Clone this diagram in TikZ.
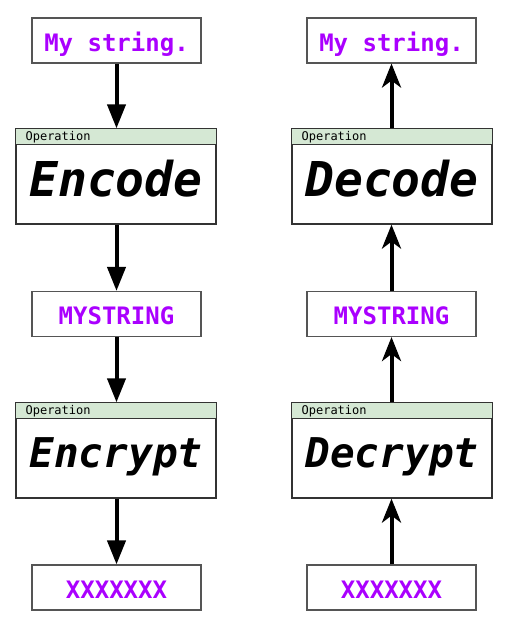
\documentclass[tikz,border=0pt]{standalone}
\usepackage{fontspec}
\newfontfamily\monof{DejaVu Sans Mono}
\usetikzlibrary{arrows.meta}
\definecolor{strpurple}{HTML}{AA00FF}
\definecolor{hdrgreen}{HTML}{D5E8D4}
\definecolor{strborder}{HTML}{555555}
\definecolor{opborder}{HTML}{333333}
\tikzset{
  strbox/.style={draw=strborder, line width=1.1pt, fill=white, minimum width=169pt, minimum height=45pt,
    inner sep=0pt, text=strpurple, font=\monof\bfseries\fontsize{24}{24}\selectfont,
    text height=21.5pt, text depth=0pt},
  opbox/.style={draw=opborder, line width=1.2pt, fill=white, minimum width=200pt, minimum height=95pt, inner sep=0pt},
  hdrstrip/.style={fill=hdrgreen, draw=opborder, line width=1.2pt},
  hdrlabel/.style={font=\monof\fontsize{12}{12}\selectfont, anchor=west, inner sep=0pt},
  bigtitle/.style={font=\monof\bfseries\itshape\fontsize{48}{48}\selectfont, anchor=base, inner sep=0pt},
  midtitle/.style={font=\monof\bfseries\itshape\fontsize{41}{41}\selectfont, anchor=base, inner sep=0pt},
  fwd/.style={line width=4pt, -{Triangle[length=24pt,width=18pt]}},
  bwd/.style={line width=4pt, -{Stealth[length=24pt,width=19pt,inset=7pt]}}
}
\begin{document}
\begin{tikzpicture}[x=1pt,y=-1pt]
\path[fill=white,use as bounding box] (0,0) rectangle (521,631);

% left column
\node[strbox] (s1) at (116.5,40.5) {My string.};
\node[opbox] (op1) at (116,176.5) {};
\path[hdrstrip] (op1.north west) rectangle ([yshift=-16pt]op1.north east);
\node[hdrlabel] (op1h) at ([xshift=10pt,yshift=-9pt]op1.north west) {Operation};
\node[bigtitle] (op1t) at ([yshift=-68pt]op1.north) {Encode};
\node[strbox] (s2) at (116.5,314) {MYSTRING};
\node[opbox] (op2) at (116,450.5) {};
\path[hdrstrip] (op2.north west) rectangle ([yshift=-16pt]op2.north east);
\node[hdrlabel] (op2h) at ([xshift=10pt,yshift=-9pt]op2.north west) {Operation};
\node[midtitle] (op2t) at ([yshift=-65pt]op2.north) {Encrypt};
\node[strbox] (s3) at (116.5,587.5) {XXXXXXX};

\draw[fwd] (s1.south) -- (s1.south |- op1.north);
\draw[fwd] (op1.south -| s2.north) -- (s2.north);
\draw[fwd] (s2.south) -- (s2.south |- op2.north);
\draw[fwd] (op2.south -| s3.north) -- (s3.north);

% right column
\node[strbox] (s4) at (391.5,40.5) {My string.};
\node[opbox] (op3) at (392,176.5) {};
\path[hdrstrip] (op3.north west) rectangle ([yshift=-16pt]op3.north east);
\node[hdrlabel] (op3h) at ([xshift=10pt,yshift=-9pt]op3.north west) {Operation};
\node[bigtitle] (op3t) at ([yshift=-68pt]op3.north) {Decode};
\node[strbox] (s5) at (391.5,314) {MYSTRING};
\node[opbox] (op4) at (392,450.5) {};
\path[hdrstrip] (op4.north west) rectangle ([yshift=-16pt]op4.north east);
\node[hdrlabel] (op4h) at ([xshift=10pt,yshift=-9pt]op4.north west) {Operation};
\node[midtitle] (op4t) at ([yshift=-65pt]op4.north) {Decrypt};
\node[strbox] (s6) at (391.5,587.5) {XXXXXXX};

\draw[bwd] (s6.north) -- (s6.north |- op4.south);
\draw[bwd] (op4.north -| s5.south) -- (s5.south);
\draw[bwd] (s5.north) -- (s5.north |- op3.south);
\draw[bwd] (op3.north -| s4.south) -- (s4.south);
\end{tikzpicture}
\end{document}
